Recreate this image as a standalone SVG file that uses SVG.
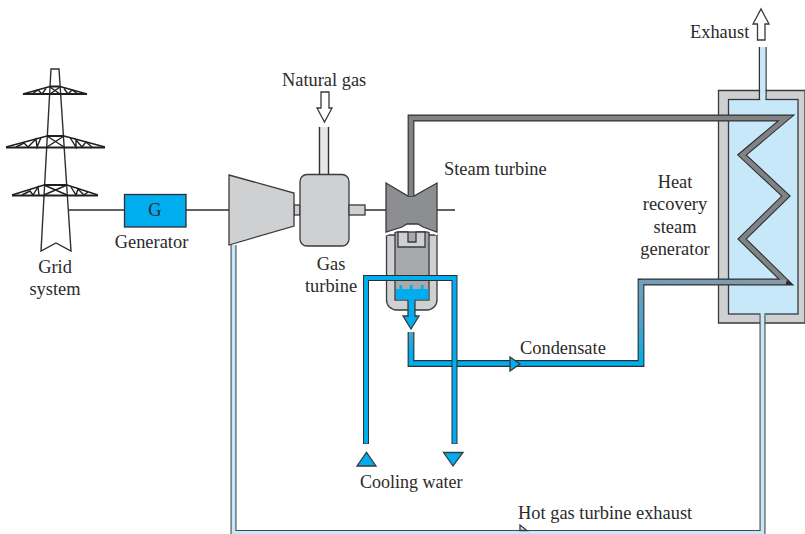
<svg xmlns="http://www.w3.org/2000/svg" width="805" height="534" viewBox="0 0 805 534">
<style>
text{font-family:"Liberation Serif","Times New Roman",serif;font-size:18.4px;fill:#2b2a2b}
.m{text-anchor:middle}
.k{fill:none;stroke:#2f2f30;stroke-width:1.4}
.t{fill:none;stroke:#1f1f20;stroke-width:1.4}
.b{fill:none;stroke:#1f1f20;stroke-width:2.2}
.s{stroke:#3a3a3c;stroke-width:1.3;stroke-linejoin:miter}
.p{fill:none;stroke-linejoin:miter;stroke-linecap:butt}
</style>
<defs>
<linearGradient id="cond" gradientUnits="userSpaceOnUse" x1="0" y1="282" x2="0" y2="362"><stop offset="0" stop-color="#6f9fb9"/><stop offset="0.5" stop-color="#4ea3c8"/><stop offset="1" stop-color="#00aeef"/></linearGradient>
<linearGradient id="horiz" gradientUnits="userSpaceOnUse" x1="786" y1="0" x2="641" y2="0"><stop offset="0" stop-color="#8a9aa6"/><stop offset="1" stop-color="#6f9fb9"/></linearGradient>
<linearGradient id="start" gradientUnits="userSpaceOnUse" x1="0" y1="332" x2="0" y2="352"><stop offset="0" stop-color="#4ea3c8"/><stop offset="1" stop-color="#00aeef"/></linearGradient>
</defs>
<g id="grid-tower">
<path class="k" d="M51 69H59L71 251L56 243L41 251Z" fill="#fff"/>
<path class="b" d="M23 94H87M6 147.500H105M12 195.500H98"/>
<path class="b" d="M50 86.500H60M47 136H64M44 185H67"/>
<path class="t" d="M23 94L50 86.500M60 86.500L87 94M6 147L47 136M64 136L105 147M12 195L44 185M67 185L98 195"/>
<path class="t" d="M50 87L60 94M60 87L50 94M47 136L64 147M64 136L47 147M44 185L67 195M67 185L44 195"/>
<path class="t" d="M32 94L38 90L42 94L46 88.500M64 88.500L68 94L72 90L78 94M16 147L24 143L28 147L36 139L37 147L41 137.500M70 137.500L76 147V140L82 147L86 142L92 147M22 195L30 191L33 195L38 187L39 195M71 187L76 195L78 189L84 195L88 192"/>
</g>
<g id="generator">
<path class="k" d="M69 210H124M186 210H229"/>
<rect x="124.500" y="194.500" width="61.500" height="32.500" fill="#00aeef" stroke="#2f2f30" stroke-width="1.300"/>
<text x="155" y="216" class="m">G</text>
</g>
<g id="compressor">
<rect x="294" y="205" width="6" height="10" fill="#cfd0d2" class="s"/>
<path d="M229 175L294 193V226L229 245Z" fill="#cfd0d2" class="s"/>
</g>
<g id="gas-turbine">
<rect x="320" y="127" width="8" height="48" fill="#e6e7e8"/>
<path d="M319.500 174V127M328.500 127V174" class="k"/>
<rect x="300" y="174.500" width="49" height="71.500" rx="7" fill="#cfd0d2" class="s"/>
<rect x="349" y="205" width="16" height="10" fill="#cfd0d2" class="s"/>
<path class="k" d="M365 210H386M437 210H455"/>
</g>
<g id="condenser">
<path d="M386.500 235V300A10 10 0 0 0 396.500 310H427A10 10 0 0 0 437 300V235Z" fill="#cfd0d2" class="s"/>
<rect x="395" y="232" width="34" height="68" fill="#a7a9ac" class="s"/>
<path d="M386 235.500L402 229L407 226H418L423 229L437 235.500V225H386Z" fill="#fff"/>
<path d="M398 232H408V242H416V232H425V247H398Z" fill="#cfd0d2" class="s"/>
<path d="M396 289H399.500V285H402V289H410V285H412.500V289H421V285H423.500V289H428.500V299.500H396Z" fill="#00aeef"/>
<path d="M408 300V316H403L411 329L419 316H415V300" fill="#00aeef" class="s"/>
<rect x="408.700" y="298" width="5.600" height="4" fill="#00aeef"/>
</g>
<g id="steam-turbine">
<path d="M386 183L408 196H414L437 183V232L423 227L418 224H407L402 227L386 232Z" fill="#8c8e91" class="s"/>
</g>
<g id="hrsg">
<path d="M805 90.500H718.500V323H805Z" fill="#cfd0d2" class="s"/>
<rect x="728.500" y="99.500" width="69.500" height="214.500" fill="#c7e8f9" class="s"/>
<path class="k" d="M759.500 47V100M766 47V100"/>
<rect x="760.200" y="47" width="5.200" height="54" fill="#c7e8f9"/>
<path class="s" d="M757.500 40V24H753L761 9L769 24H765V40Z" fill="#fff"/>
</g>
<g id="natural-gas-arrow">
<path class="s" d="M321 92H329V108H332L324.500 122L317 108H321Z" fill="#fff"/>
</g>
<g id="connectors">
<path class="p" d="M233.500 245V533H762.500V315" stroke="#47494b" stroke-width="6"/>
<path class="p" d="M233.500 245V533H762.500V313" stroke="#c7e8f9" stroke-width="3.800"/>
<path d="M520 525L527 530.500H520Z" fill="#c7e8f9" class="s"/>
<path class="p" d="M411 196V118H786L742 155L786 196L742 239L786 282H641V363.500H411V332" stroke="#2f2f30" stroke-width="6.800"/>
<path class="p" d="M411 196V118H786L742 155L786 196L742 239L786 282" stroke="#808285" stroke-width="4.600"/>
<path class="p" d="M786 282H641" stroke="url(#horiz)" stroke-width="4.600"/>
<path class="p" d="M641 280V363.500" stroke="url(#cond)" stroke-width="4.600"/>
<path class="p" d="M643.200 363.500H413.300" stroke="#00aeef" stroke-width="4.600"/>
<path class="p" d="M411 365.800V332" stroke="url(#start)" stroke-width="4.600"/>
<path d="M510 357L520 364L510 371Z" fill="#00aeef" class="s"/>
<path class="p" d="M366 444V278H454.500V444" stroke="#2f2f30" stroke-width="6"/>
<path class="p" d="M366 443.500V278H454.500V443.500" stroke="#00aeef" stroke-width="4"/>
<path d="M357 466H376L366.500 452.500Z" fill="#00aeef" class="s"/>
<path d="M443.500 452.500H463L453 466Z" fill="#00aeef" class="s"/>
</g>
<g id="labels">
<text x="690" y="38">Exhaust</text>
<text x="282" y="86">Natural gas</text>
<text x="444" y="175">Steam turbine</text>
<text x="675" y="188" class="m">Heat</text>
<text x="675" y="210" class="m">recovery</text>
<text x="675" y="233" class="m">steam</text>
<text x="675" y="255" class="m">generator</text>
<text x="151.500" y="248" class="m">Generator</text>
<text x="55" y="273" class="m">Grid</text>
<text x="55" y="295" class="m">system</text>
<text x="331" y="270" class="m">Gas</text>
<text x="331" y="292" class="m">turbine</text>
<text x="520" y="354">Condensate</text>
<text x="518" y="519">Hot gas turbine exhaust</text>
<text x="360" y="488" style="font-size:18px">Cooling water</text>
</g>
</svg>
